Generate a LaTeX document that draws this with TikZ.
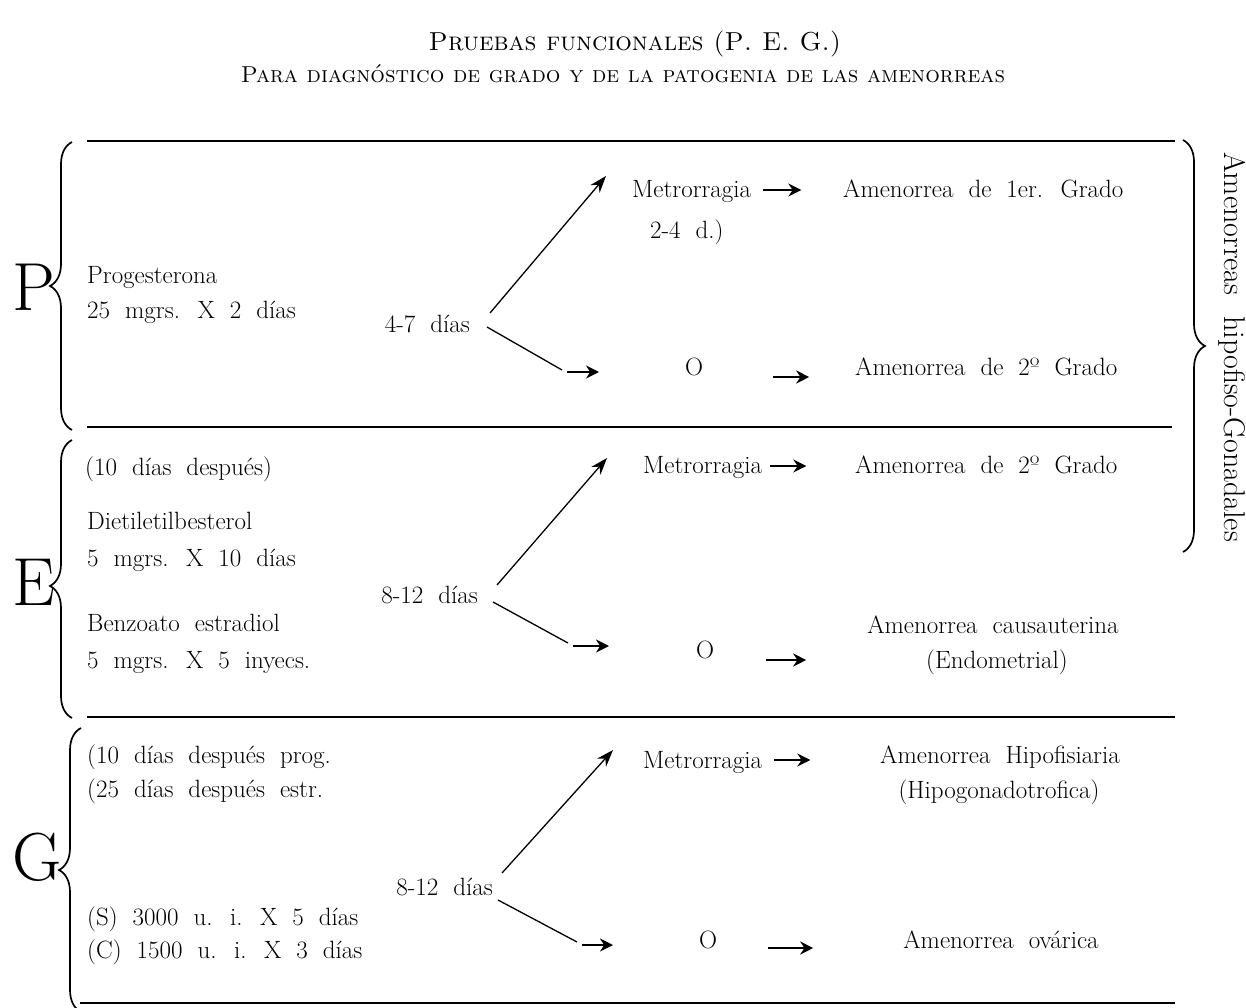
\documentclass[tikz,border=0pt]{standalone}
\usepackage{fontspec}
\usetikzlibrary{arrows.meta,decorations.pathreplacing}

\newcommand\bodyfont{\fontsize{25}{29}\selectfont\spaceskip=0.6em plus 0.1em\relax}
\newcommand\bigfont{\fontsize{68}{68}\selectfont}
\newcommand\sidefont{\fontsize{30}{34}\selectfont\spaceskip=0.7em\relax}

\tikzset{
  txt/.style={inner sep=0pt, font=\bodyfont, anchor=base west},
  ctxt/.style={txt, anchor=base},
  rtxt/.style={txt, anchor=base east},
  letter/.style={inner sep=0pt, font=\bigfont, anchor=base west},
  headline/.style={inner sep=0pt, anchor=base},
  rule/.style={line width=2.8pt},
  branch/.style={line width=1.3pt},
  uparrow/.style={branch, -{Stealth[length=17pt,width=12pt]}},
  shortarr/.style={line width=2.8pt, -{Stealth[length=13pt,width=13pt]}},
  lbrace/.style={decorate, decoration={brace, amplitude=22pt, aspect=#1}, line width=1.7pt},
  lbrace/.default=0.5
}

\begin{document}
\begin{tikzpicture}[x=1pt, y=-1pt]
\useasboundingbox (0,0) rectangle (1246,1008);

\node[headline, font=\fontsize{26}{30}\selectfont] (tit1) at (635,51) {\textsc{Pruebas funcionales (P. E. G.)}};
\node[headline, font=\fontsize{23}{27}\selectfont] (tit2) at (623,83) {\textsc{Para diagnóstico de grado y de la patogenia de las amenorreas}};

\draw[rule] (87,141) -- (1175,141);
\draw[rule] (87,427) -- (1172,427);
\draw[rule] (87,717) -- (1175,717);
\draw[rule] (80,1003) -- (1175,1003);

% P
\node[letter] (bigP) at (12,310) {P};
\draw[lbrace] (72,430) -- (72,142);
\node[txt] (prog) at (87,283) {Progesterona};
\node[txt] (progdose) at (87,318) {25 mgrs. X 2 días};
\node[rtxt] (d1) at (470,332) {4-7 días};
\node[txt] (met1) at (632,198) {Metrorragia};
\node[txt] (dur1) at (650,238) {2-4 d.)};
\node[txt] (res1) at (843,198) {Amenorrea de 1er. Grado};
\node[ctxt] (o1) at (694,375) {O};
\node[txt] (res2) at (855,375) {Amenorrea de 2º Grado};
\coordinate (t1) at (606,176);
\coordinate (c1) at (562,370);
\draw[uparrow] ([shift={(20,-19)}]d1.base east) -- (t1);
\draw[branch] ([shift={(17,-5)}]d1.base east) -- (c1);
\draw[shortarr] ([shift={(5,2)}]c1) -- ++(32,0);
\draw[shortarr] ([shift={(12,-8)}]met1.base east) -- ++(38,0);
\draw[shortarr] ([shift={(70,2)}]o1.base east) -- ++(36,0);

% E
\node[letter] (bigE) at (12,605) {E};
\draw[lbrace=0.475] (72,718) -- (72,440);
\node[txt] (wait1) at (85,475) {(10 días después)};
\node[txt] (dies) at (87,529) {Dietiletilbesterol};
\node[txt] (diesdose) at (87,566) {5 mgrs. X 10 días};
\node[txt] (benz) at (87,631) {Benzoato estradiol};
\node[txt] (benzdose) at (87,668) {5 mgrs. X 5 inyecs.};
\node[rtxt] (d2) at (478,603) {8-12 días};
\node[txt] (met2) at (643,473) {Metrorragia};
\node[txt] (res3) at (855,473) {Amenorrea de 2º Grado};
\node[ctxt] (o2) at (705,658) {O};
\node[ctxt] (res4) at (993,633) {Amenorrea causauterina};
\node[ctxt] (res4b) at (997,668) {(Endometrial)};
\coordinate (t2) at (607,458);
\coordinate (c2) at (568,643);
\draw[uparrow] ([shift={(19,-18)}]d2.base east) -- (t2);
\draw[branch] ([shift={(15,-1)}]d2.base east) -- (c2);
\draw[shortarr] ([shift={(5,3)}]c2) -- ++(36,0);
\draw[shortarr] ([shift={(8,-7)}]met2.base east) -- ++(36,0);
\draw[shortarr] ([shift={(52,2)}]o2.base east) -- ++(40,0);

% G
\node[letter] (bigG) at (12,880) {G};
\draw[lbrace] (81,1012) -- (81,728);
\node[txt] (wait2) at (87,763) {(10 días después prog.};
\node[txt] (wait3) at (87,797) {(25 días después estr.};
\node[txt] (dose1) at (87,925) {(S) 3000 u. i. X 5 días};
\node[txt] (dose2) at (87,958) {(C) 1500 u. i. X 3 días};
\node[rtxt] (d3) at (493,895) {8-12 días};
\node[txt] (met3) at (643,768) {Metrorragia};
\node[ctxt] (res5) at (1000,763) {Amenorrea Hipofisiaria};
\node[ctxt] (res5b) at (999,798) {(Hipogonadotrofica)};
\node[ctxt] (o3) at (708,948) {O};
\node[ctxt] (res6) at (1001,948) {Amenorrea ovárica};
\coordinate (t3) at (613,750);
\coordinate (c3) at (577,942);
\draw[uparrow] ([shift={(9,-22)}]d3.base east) -- (t3);
\draw[branch] ([shift={(5,5)}]d3.base east) -- (c3);
\draw[shortarr] ([shift={(5,3)}]c3) -- ++(31,0);
\draw[shortarr] ([shift={(12,-8)}]met3.base east) -- ++(36,0);
\draw[shortarr] ([shift={(51,0)}]o3.base east) -- ++(45,0);

% right side
\draw[lbrace] (1183,140) -- (1183,552);
\node[inner sep=0pt, font=\sidefont, rotate=-90] (side) at (1232,347) {Amenorreas hipofiso-Gonadales};

\end{tikzpicture}
\end{document}
